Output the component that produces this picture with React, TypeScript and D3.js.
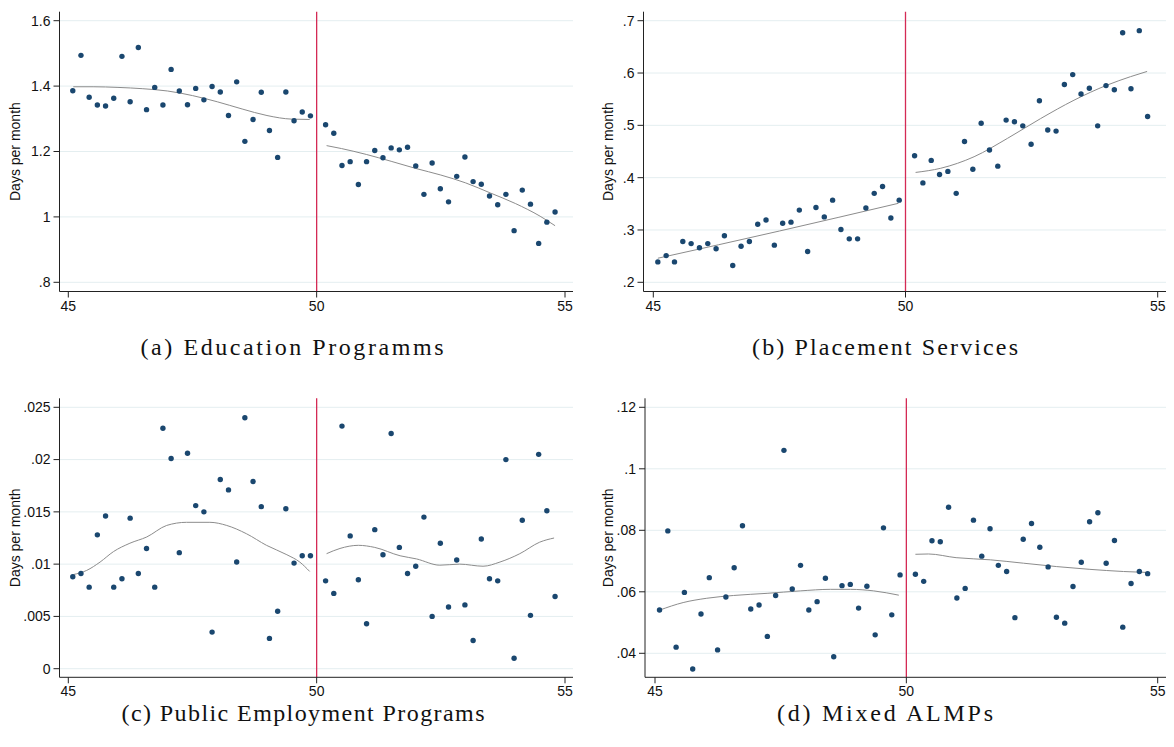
import React from 'react';
import * as d3 from 'd3';

// age bins (years), shared by all four panels
const ageLeft = [45.09, 45.255, 45.42, 45.585, 45.75, 45.915, 46.08, 46.245, 46.41, 46.575, 46.74, 46.905, 47.07, 47.235, 47.4, 47.565, 47.73, 47.895, 48.06, 48.225, 48.39, 48.555, 48.72, 48.885, 49.05, 49.215, 49.38, 49.545, 49.71, 49.875];
const ageRight = [50.18, 50.345, 50.51, 50.675, 50.84, 51.005, 51.17, 51.335, 51.5, 51.665, 51.83, 51.995, 52.16, 52.325, 52.49, 52.655, 52.82, 52.985, 53.15, 53.315, 53.48, 53.645, 53.81, 53.975, 54.14, 54.305, 54.47, 54.635, 54.8];
const ageTicks = [45, 50, 55];

// (a) Education Programms
const eduLeft = [1.386, 1.494, 1.366, 1.342, 1.339, 1.363, 1.491, 1.352, 1.518, 1.328, 1.396, 1.342, 1.451, 1.385, 1.343, 1.393, 1.358, 1.399, 1.382, 1.31, 1.413, 1.231, 1.298, 1.381, 1.264, 1.182, 1.382, 1.294, 1.321, 1.309];
const eduRight = [1.282, 1.256, 1.157, 1.169, 1.099, 1.169, 1.203, 1.181, 1.211, 1.205, 1.213, 1.156, 1.069, 1.165, 1.086, 1.046, 1.124, 1.183, 1.108, 1.1, 1.064, 1.037, 1.069, 0.958, 1.082, 1.039, 0.919, 0.984, 1.015];
const eduFitLeftAge = [45.1, 45.5, 46, 46.5, 47, 47.5, 48, 48.5, 49, 49.5, 49.86];
const eduFitLeft = [1.398, 1.398, 1.396, 1.392, 1.385, 1.371, 1.352, 1.33, 1.31, 1.299, 1.298];
const eduFitRightAge = [50.2, 50.5, 51, 51.5, 52, 52.5, 53, 53.5, 54, 54.5, 54.8];
const eduFitRight = [1.218, 1.209, 1.191, 1.17, 1.148, 1.128, 1.104, 1.073, 1.041, 1.002, 0.973];
const eduTicks = [0.8, 1, 1.2, 1.4, 1.6];

// (b) Placement Services
const plcLeft = [0.239, 0.251, 0.239, 0.278, 0.274, 0.266, 0.274, 0.264, 0.289, 0.232, 0.269, 0.278, 0.311, 0.319, 0.271, 0.313, 0.315, 0.338, 0.259, 0.343, 0.325, 0.357, 0.301, 0.283, 0.283, 0.342, 0.37, 0.383, 0.323, 0.357];
const plcRight = [0.442, 0.39, 0.433, 0.406, 0.412, 0.37, 0.469, 0.416, 0.504, 0.453, 0.422, 0.51, 0.507, 0.499, 0.464, 0.547, 0.491, 0.489, 0.578, 0.597, 0.56, 0.571, 0.499, 0.576, 0.568, 0.677, 0.57, 0.681, 0.517];
const plcFitLeftAge = [45.09, 47.5, 49.86];
const plcFitLeft = [0.246, 0.298, 0.351];
const plcFitRightAge = [50.2, 50.7, 51.36, 52.02, 52.68, 53.34, 54.0, 54.46, 54.79];
const plcFitRight = [0.41, 0.418, 0.44, 0.475, 0.513, 0.548, 0.577, 0.593, 0.603];
const plcTicks = [0.2, 0.3, 0.4, 0.5, 0.6, 0.7];

// (c) Public Employment Programs
const pepLeft = [0.0088, 0.0091, 0.0078, 0.0128, 0.0146, 0.0078, 0.0086, 0.0144, 0.0091, 0.0115, 0.0078, 0.023, 0.0201, 0.0111, 0.0206, 0.0156, 0.015, 0.0035, 0.0181, 0.0171, 0.0102, 0.024, 0.0179, 0.0155, 0.0029, 0.0055, 0.0153, 0.0101, 0.0108, 0.0108];
const pepRight = [0.0084, 0.0072, 0.0232, 0.0127, 0.0085, 0.0043, 0.0133, 0.0109, 0.0225, 0.0116, 0.0091, 0.0098, 0.0145, 0.005, 0.012, 0.0059, 0.0104, 0.0061, 0.0027, 0.0124, 0.0086, 0.0084, 0.02, 0.001, 0.0142, 0.0051, 0.0205, 0.0151, 0.0069];
const pepFitLeftAge = [45.1, 45.37, 45.64, 45.91, 46.24, 46.58, 46.98, 47.38, 47.85, 48.19, 48.59, 48.99, 49.4, 49.66, 49.86];
const pepFitLeft = [0.009, 0.0094, 0.0102, 0.0112, 0.012, 0.0126, 0.0137, 0.014, 0.014, 0.0137, 0.0129, 0.0118, 0.0109, 0.0102, 0.0093];
const pepFitRightAge = [50.2, 50.47, 50.84, 51.17, 51.68, 52.01, 52.48, 52.88, 53.35, 53.69, 54.09, 54.49, 54.78];
const pepFitRight = [0.011, 0.0115, 0.0118, 0.0116, 0.0108, 0.0105, 0.0099, 0.01, 0.0098, 0.0102, 0.011, 0.0121, 0.0125];
const pepTicks = [0, 0.005, 0.01, 0.015, 0.02, 0.025];

// (d) Mixed ALMPs
const mixLeft = [0.0541, 0.0798, 0.042, 0.0598, 0.0349, 0.0528, 0.0646, 0.0411, 0.0583, 0.0678, 0.0815, 0.0544, 0.0557, 0.0455, 0.0588, 0.106, 0.0609, 0.0686, 0.0541, 0.0568, 0.0644, 0.0389, 0.062, 0.0624, 0.0547, 0.0618, 0.046, 0.0808, 0.0525, 0.0655];
const mixRight = [0.0657, 0.0634, 0.0766, 0.0763, 0.0875, 0.058, 0.0611, 0.0833, 0.0716, 0.0805, 0.0686, 0.0666, 0.0516, 0.0771, 0.0822, 0.0745, 0.0681, 0.0517, 0.0498, 0.0617, 0.0696, 0.0828, 0.0857, 0.0693, 0.0767, 0.0485, 0.0627, 0.0666, 0.0659];
const mixFitLeftAge = [45.1, 45.56, 46.03, 46.56, 47.23, 47.89, 48.49, 48.89, 49.35, 49.85];
const mixFitLeft = [0.0541, 0.0565, 0.0579, 0.0588, 0.0595, 0.0603, 0.0608, 0.0608, 0.0603, 0.0589];
const mixFitRightAge = [50.18, 50.44, 50.99, 51.67, 52.33, 52.99, 53.65, 54.32, 54.78];
const mixFitRight = [0.0722, 0.0723, 0.0711, 0.0704, 0.0693, 0.0682, 0.0673, 0.0666, 0.0663];
const mixTicks = [0.04, 0.06, 0.08, 0.1, 0.12];

const NAVY = '#1a476f';
const RED = '#d42a55';
const GRID = '#e4eef0';
const SANS = '"Liberation Sans", Arial, sans-serif';
const SERIF = '"Liberation Serif", "Times New Roman", serif';

const fmt = (v: number) => (v === 0 ? '0' : String(v).replace(/^0\./, '.'));

interface PanelProps {
  left: number[];
  right: number[];
  fitLA: number[];
  fitL: number[];
  fitRA: number[];
  fitR: number[];
  ticks: number[];
  caption: string;
  captionW: number;
  box: { ax: number; right: number; top: number; bottom: number; yLo: number; yHi: number; x45: number; x55: number; capX: number; capY: number; labX: number };
}

const Panel: React.FC<PanelProps> = ({ left, right, fitLA, fitL, fitRA, fitR, ticks, caption, captionW, box }) => {
  const x = d3.scaleLinear().domain([45, 55]).range([box.x45, box.x55]);
  const y = d3.scaleLinear().domain([ticks[0], ticks[ticks.length - 1]]).range([box.yLo, box.yHi]);
  const line = d3.line<[number, number]>()
    .x(d => x(d[0]))
    .y(d => y(d[1]))
    .curve(d3.curveMonotoneX);
  const ptsL = left.map((v, i) => [ageLeft[i], v] as [number, number]);
  const ptsR = right.map((v, i) => [ageRight[i], v] as [number, number]);
  const midY = (box.top + box.bottom) / 2;

  return (
    <g>
      {ticks.map(t => (
        <line key={'g' + t} x1={box.ax} x2={box.right} y1={y(t)} y2={y(t)} stroke={GRID} strokeWidth={1} />
      ))}
      <line x1={x(50)} x2={x(50)} y1={box.top} y2={box.bottom} stroke={RED} strokeWidth={1.3} />
      <path d={line(fitLA.map((a, i) => [a, fitL[i]] as [number, number])) || ''} fill="none" stroke="#8c8c8c" strokeWidth={1} />
      <path d={line(fitRA.map((a, i) => [a, fitR[i]] as [number, number])) || ''} fill="none" stroke="#8c8c8c" strokeWidth={1} />
      {ptsL.concat(ptsR).map((p, i) => (
        <circle key={i} cx={x(p[0])} cy={y(p[1])} r={2.7} fill={NAVY} />
      ))}
      <line x1={box.ax} x2={box.ax} y1={box.top} y2={box.bottom} stroke="#222" strokeWidth={1} />
      <line x1={box.ax} x2={box.right} y1={box.bottom} y2={box.bottom} stroke="#222" strokeWidth={1} />
      {ticks.map(t => (
        <g key={'t' + t}>
          <line x1={box.ax - 6} x2={box.ax} y1={y(t)} y2={y(t)} stroke="#222" strokeWidth={1} />
          <text x={box.ax - 9} y={y(t)} dy="0.35em" textAnchor="end" fontFamily={SANS} fontSize={14} fill="#111">{fmt(t)}</text>
        </g>
      ))}
      {ageTicks.map(t => (
        <g key={'x' + t}>
          <line x1={x(t)} x2={x(t)} y1={box.bottom} y2={box.bottom + 6} stroke="#222" strokeWidth={1} />
          <text x={x(t)} y={box.bottom + 19} textAnchor="middle" fontFamily={SANS} fontSize={14} fill="#111">{t}</text>
        </g>
      ))}
      <text transform={`translate(${box.labX},${midY}) rotate(-90)`} textAnchor="middle" fontFamily={SANS} fontSize={14} fill="#111">Days per month</text>
      <text x={box.capX} y={box.capY} textAnchor="middle" fontFamily={SERIF} fontSize={24} fill="#111" textLength={captionW} lengthAdjust="spacing">{caption}</text>
    </g>
  );
};

export default function App() {
  return (
    <svg width={1174} height={747} style={{ position: 'absolute', left: 0, top: 0, background: '#fff' }}>
      <Panel left={eduLeft} right={eduRight} fitLA={eduFitLeftAge} fitL={eduFitLeft} fitRA={eduFitRightAge} fitR={eduFitRight}
        ticks={eduTicks} caption="(a) Education Programms" captionW={303}
        box={{ ax: 59.5, right: 573, top: 11.7, bottom: 291.5, yLo: 282.3, yHi: 20.7, x45: 68.3, x55: 565, capX: 292, capY: 355, labX: 20 }} />
      <Panel left={plcLeft} right={plcRight} fitLA={plcFitLeftAge} fitL={plcFitLeft} fitRA={plcFitRightAge} fitR={plcFitRight}
        ticks={plcTicks} caption="(b) Placement Services" captionW={266}
        box={{ ax: 643.5, right: 1166, top: 11.7, bottom: 291.5, yLo: 282.3, yHi: 20.7, x45: 653.3, x55: 1157.7, capX: 885, capY: 355, labX: 613 }} />
      <Panel left={pepLeft} right={pepRight} fitLA={pepFitLeftAge} fitL={pepFitLeft} fitRA={pepFitRightAge} fitR={pepFitRight}
        ticks={pepTicks} caption="(c) Public Employment Programs" captionW={363}
        box={{ ax: 59.5, right: 573, top: 398.3, bottom: 677.3, yLo: 668.7, yHi: 407.3, x45: 68.3, x55: 565, capX: 303, capY: 721, labX: 20 }} />
      <Panel left={mixLeft} right={mixRight} fitLA={mixFitLeftAge} fitL={mixFitLeft} fitRA={mixFitRightAge} fitR={mixFitRight}
        ticks={mixTicks} caption="(d) Mixed ALMPs" captionW={216}
        box={{ ax: 645, right: 1166, top: 398.3, bottom: 677.3, yLo: 653.3, yHi: 407.3, x45: 655, x55: 1157.7, capX: 885, capY: 721, labX: 613 }} />
    </svg>
  );
}
